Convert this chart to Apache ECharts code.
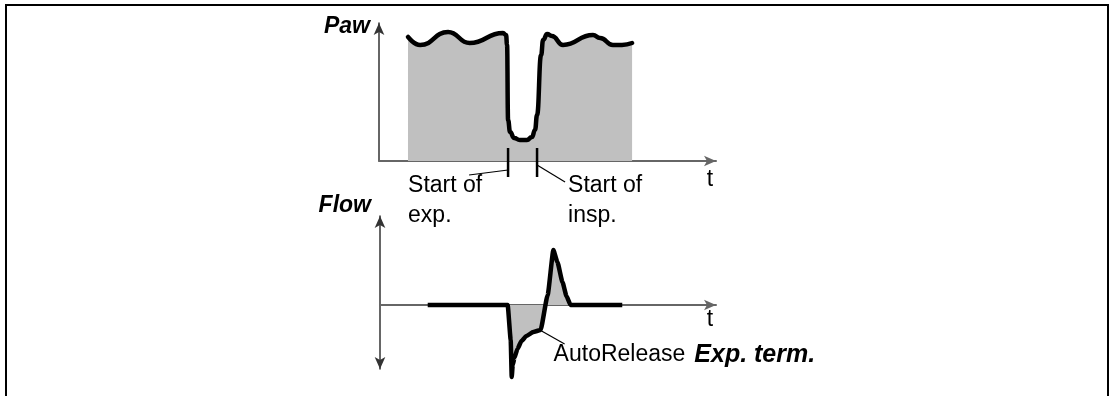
<!DOCTYPE html>
<html>
<head>
<meta charset="utf-8">
<script src="https://cdn.jsdelivr.net/npm/echarts@6/dist/echarts.min.js"></script>
<style>
  html, body { margin: 0; padding: 0; background: #fff; }
  #chart { width: 1114px; height: 396px; }
</style>
</head>
<body>
<div id="chart"></div>
<script>
// Airway pressure (Paw) over one breath cycle, time in arbitrary units 0..100
const pawTime   = [8.6, 12.2, 20.5, 26.9, 36.8, 37.7, 38.0, 38.3, 38.9, 40.1, 41.8, 43.9, 45.4, 46.3, 46.9, 48.1, 48.7, 49.9, 51.3, 54.6, 63.5, 65.6, 69.4, 72.1, 75.1];
const pawValues = [89.9, 84.1, 93.5, 85.5, 92.8, 91.3, 84.1, 29.7, 21.0, 16.7, 15.2, 15.2, 17.4, 22.5, 33.3, 76.8, 87.7, 92.0, 90.6, 84.1, 91.3, 89.1, 84.1, 84.1, 85.5];

// Flow over the same window
const flowTime   = [14.2, 38.0, 38.9, 39.2, 39.5, 40.0, 40.9, 42.1, 43.6, 45.6, 47.8, 49.9, 51.6, 52.8, 54.3, 55.5, 56.7, 72.1];
const flowValues = [0, 0, -3.5, -7.2, -6.0, -5.3, -4.4, -3.6, -3.1, -2.7, -2.5, 1.0, 5.5, 4.3, 2.3, 0.9, 0, 0];

// Event markers on the pressure time axis
const pawEventTimes  = [38.3, 46.9];
const pawEventLabels = ['Start of\nexp.', 'Start of\ninsp.'];

// Annotated point on the flow curve
const flowNotePoint = [47.8, -2.5];
const flowNoteLabel = ['AutoRelease', 'Exp. term.'];

const axisLabels = { paw: 'Paw', flow: 'Flow', time: 't' };

const FONT = '"Liberation Sans", Arial, sans-serif';
const FS = 23;

const chart = echarts.init(document.getElementById('chart'), null, { renderer: 'canvas' });

function hiddenParts() {
  return {
    axisTick: { show: false },
    axisLabel: { show: false },
    splitLine: { show: false }
  };
}

const option = {
  animation: false,
  backgroundColor: '#fff',
  grid: [
    { left: 379, top: 23, width: 337, height: 138 },
    { left: 380, top: 216, width: 336, height: 153 }
  ],
  xAxis: [
    Object.assign({
      type: 'value', gridIndex: 0, min: 0, max: 100,
      axisLine: { show: true, symbol: ['none', 'arrow'], symbolSize: [8, 12],
        lineStyle: { color: '#666', width: 2 } }
    }, hiddenParts()),
    Object.assign({
      type: 'value', gridIndex: 1, min: 0, max: 100,
      axisLine: { show: true, onZero: true, symbol: ['none', 'arrow'], symbolSize: [8, 12],
        lineStyle: { color: '#666', width: 2 } }
    }, hiddenParts())
  ],
  yAxis: [
    Object.assign({
      type: 'value', gridIndex: 0, min: 0, max: 100,
      axisLine: { show: true, symbol: ['none', 'arrow'], symbolSize: [8, 12],
        lineStyle: { color: '#333', width: 1.5 } }
    }, hiddenParts()),
    Object.assign({
      type: 'value', gridIndex: 1, min: -6.4, max: 8.9,
      axisLine: { show: true, symbol: ['arrow', 'arrow'], symbolSize: [8, 12],
        lineStyle: { color: '#333', width: 1.5 } }
    }, hiddenParts())
  ],
  series: [
    {
      type: 'line', name: 'Paw', xAxisIndex: 0, yAxisIndex: 0,
      data: pawTime.map((t, i) => [t, pawValues[i]]),
      showSymbol: false, silent: true, clip: false,
      smooth: 0.5, smoothMonotone: 'x',
      lineStyle: { color: '#000', width: 4.5, join: 'round', cap: 'round' },
      areaStyle: { color: '#c0c0c0', opacity: 1, origin: 'start' },
      z: 2
    },
    {
      type: 'line', name: 'Flow', xAxisIndex: 1, yAxisIndex: 1,
      data: flowTime.map((t, i) => [t, flowValues[i]]),
      showSymbol: false, silent: true, clip: false,
      smooth: 0.15, smoothMonotone: 'x',
      lineStyle: { color: '#000', width: 4.5, join: 'round', cap: 'butt' },
      areaStyle: { color: '#c0c0c0', opacity: 1, origin: 0 },
      z: 2
    },
    {
      // tick marks with their captions below the pressure time axis
      type: 'custom', xAxisIndex: 0, yAxisIndex: 0, silent: true, z: 5,
      data: pawEventTimes.map((t, i) => [t, 0, i]),
      renderItem: function (params, api) {
        const p = api.coord([api.value(0), 0]);
        const idx = api.value(2);
        const left = idx === 0;
        const leader = left
          ? [[p[0], p[1] + 9], [p[0] - 39, p[1] + 14]]
          : [[p[0], p[1] + 4], [p[0] + 28, p[1] + 21]];
        return {
          type: 'group',
          children: [
            { type: 'line', shape: { x1: p[0], y1: p[1] - 13, x2: p[0], y2: p[1] + 16 },
              style: { stroke: '#000', lineWidth: 2.5 } },
            { type: 'polyline', shape: { points: leader },
              style: { stroke: '#000', lineWidth: 1.2, fill: null } },
            { type: 'text',
              style: { text: pawEventLabels[idx], x: left ? p[0] - 100 : p[0] + 31, y: p[1] + 10,
                font: FS + 'px ' + FONT, fill: '#000', lineHeight: 30,
                align: 'left', verticalAlign: 'top' } }
          ]
        };
      }
    },
    {
      // annotation on the flow curve
      type: 'custom', xAxisIndex: 1, yAxisIndex: 1, silent: true, z: 5,
      data: [flowNotePoint],
      renderItem: function (params, api) {
        const p = api.coord([api.value(0), api.value(1)]);
        return {
          type: 'group',
          children: [
            { type: 'line', shape: { x1: p[0] + 1, y1: p[1] + 1, x2: p[0] + 24, y2: p[1] + 14 },
              style: { stroke: '#000', lineWidth: 1.2 } },
            { type: 'text',
              style: {
                text: '{n|' + flowNoteLabel[0] + '}{b|' + flowNoteLabel[1] + '}',
                x: p[0] + 13, y: p[1] + 25, verticalAlign: 'middle', align: 'left',
                rich: {
                  n: { fontFamily: FONT, fontSize: FS, color: '#000' },
                  b: { fontFamily: FONT, fontSize: 25, fontWeight: 'bold', fontStyle: 'italic',
                       color: '#000', padding: [0, 0, 0, 9] }
                }
              } }
          ]
        };
      }
    }
  ],
  graphic: [
    { type: 'polyline', silent: true,
      shape: { points: [[6, 400], [6, 5], [1108, 5], [1108, 400]] },
      style: { stroke: '#000', lineWidth: 2, fill: null } },
    { type: 'text', silent: true,
      style: { text: axisLabels.paw, x: 370, y: 27, align: 'right', verticalAlign: 'middle',
        font: 'italic bold ' + FS + 'px ' + FONT, fill: '#000' } },
    { type: 'text', silent: true,
      style: { text: axisLabels.flow, x: 371, y: 206, align: 'right', verticalAlign: 'middle',
        font: 'italic bold ' + FS + 'px ' + FONT, fill: '#000' } },
    { type: 'text', silent: true,
      style: { text: axisLabels.time, x: 710, y: 180, align: 'center', verticalAlign: 'middle',
        font: FS + 'px ' + FONT, fill: '#000' } },
    { type: 'text', silent: true,
      style: { text: axisLabels.time, x: 710, y: 320, align: 'center', verticalAlign: 'middle',
        font: FS + 'px ' + FONT, fill: '#000' } }
  ]
};

chart.setOption(option);
</script>
</body>
</html>
